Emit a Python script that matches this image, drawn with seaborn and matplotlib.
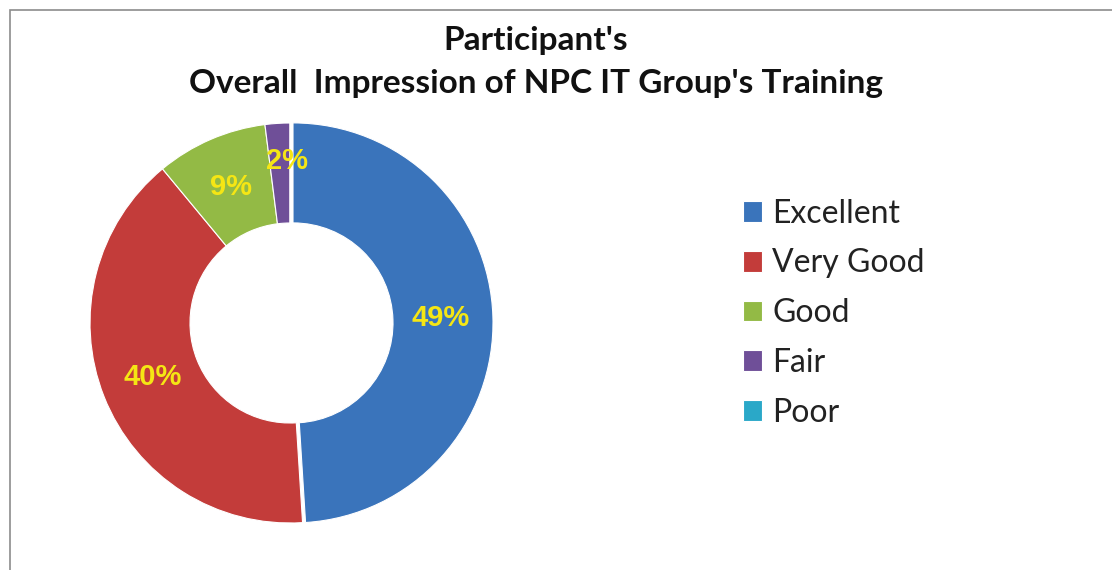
import matplotlib
matplotlib.use("Agg")
from matplotlib import pyplot as plt
from matplotlib.patches import Rectangle
import seaborn as sns

# data
categories = ["Excellent", "Very Good", "Good", "Fair", "Poor"]
shares = [49, 40, 9, 2, 0]
colors = ["#3a74bb", "#c33c3a", "#93ba45", "#6f4f98", "#2aa8c8"]

title_text = "Participant's\nOverall  Impression of NPC IT Group's Training"

sns.set_theme(style="white")
plt.rcParams["font.family"] = ["Lato", "DejaVu Sans"]

fig = plt.figure(figsize=(11.12, 5.70), dpi=100)

# grey chart frame
fig.patches.append(Rectangle((10 / 1112, -0.05), 1.2, 1 - 10 / 570 + 0.05,
                             transform=fig.transFigure, fill=False,
                             edgecolor="#8c8c8c", linewidth=1.2))

ax = fig.add_axes([86 / 1112, 43 / 570, 408 / 1112, 408 / 570])


def pct_label(p):
    return f"{p:.0f}%" if p >= 0.5 else ""


wedges, _, autotexts = ax.pie(
    shares, colors=colors, startangle=90, counterclock=False,
    radius=1.0, autopct=pct_label, pctdistance=0.74,
    explode=[0.015, 0, 0, 0, 0],
    wedgeprops=dict(width=0.5, edgecolor="white", linewidth=0.8),
    textprops=dict(color="#f5e614", fontsize=21, fontweight="bold",
                   family="Liberation Sans"),
)
# small 2% label sits a little higher in the original
autotexts[3].set_y(autotexts[3].get_position()[1] + 0.07)
autotexts[3].set_x(autotexts[3].get_position()[0] + 0.03)

ax.set_xlim(-1.02, 1.02)
ax.set_ylim(-1.02, 1.02)
ax.set_aspect("equal")
ax.axis("off")

fig.text(0.482, 0.955, title_text, ha="center", va="top",
         fontsize=24, fontweight="bold", linespacing=1.6, color="#111111")

fig.legend(wedges, categories, loc="upper left",
           bbox_to_anchor=(0.642, 0.702), frameon=False,
           fontsize=23, handlelength=0.62, handleheight=0.62,
           handletextpad=0.3, labelspacing=0.62, labelcolor="#222222")

fig.savefig("out.png", dpi=100, facecolor="white")
